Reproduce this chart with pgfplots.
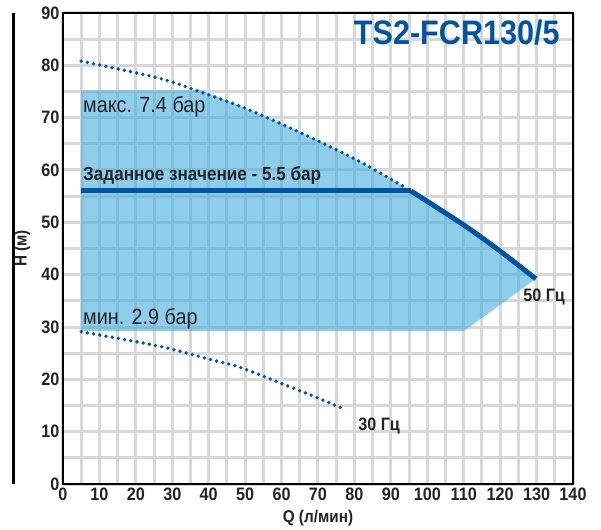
\documentclass[border=0pt]{standalone}
\usepackage{fontspec}
\setmainfont{Liberation Sans}[FakeStretch=0.9]
\usepackage{pgfplots}
\pgfplotsset{compat=1.18}
\definecolor{pumpblue}{RGB}{0,84,166}
\definecolor{fillblue}{RGB}{68,173,222}
\definecolor{gridgray}{RGB}{216,216,216}
\definecolor{txtgray}{RGB}{35,35,35}

\begin{document}
\begin{tikzpicture}
\begin{axis}[
    scale only axis, width=510pt, height=471pt,
    xmin=0, xmax=140, ymin=0, ymax=90,
    xtick={0,10,...,140}, ytick={0,10,...,90},
    minor x tick num=1, minor y tick num=1,
    grid=both,
    grid style={draw=gridgray, line width=3pt},
    major tick length=0pt, minor tick length=0pt,
    axis line style={black, line width=2.4pt},
    tick label style={font=\fontsize{18}{18}\selectfont\bfseries, text=txtgray},
    /pgf/number format/assume math mode=true,
    xlabel={Q (л/мин)}, ylabel={H (м)},
    label style={font=\fontsize{17}{17}\selectfont\bfseries, text=txtgray},
    xlabel style={at={(rel axis cs:0.5,-0.072)}, anchor=center},
    ylabel style={at={(rel axis cs:-0.08,0.5)}, anchor=center},
    clip mode=individual,
]
% operating area
\addplot[draw=none, fill=fillblue, fill opacity=0.6] coordinates {
    (5,29.2) (5,75.2) (38,75.2) (48.6,72.2) (59.6,68.9) (70.5,65.4) (81.5,61.6) (95.5,56)
    (110,49.5) (120,44.5) (129.8,39.2) (110,29.2)
} -- cycle;
% max curve (dotted)
\addplot[pumpblue, line width=3.8pt, line cap=round, dash pattern=on 0pt off 6.3pt, smooth] coordinates {
    (5,80.8) (26.6,77.5) (39.4,74.5) (48.6,72.2) (59.6,68.9) (70.5,65.4) (81.5,61.6) (94.1,56.6)
};
% min curve (dotted)
\addplot[pumpblue, line width=3.8pt, line cap=round, dash pattern=on 0pt off 6.3pt, smooth] coordinates {
    (5,29.1) (26.6,26.3) (40.4,23.8) (48.6,22.3) (60,19.2) (70.1,16.4) (76.5,14.5)
};
% setpoint + 50 Hz curve
\addplot[pumpblue, line width=5pt] coordinates {
    (5,56) (95.5,56)
};
\addplot[pumpblue, line width=5pt, smooth] coordinates {
    (95.5,56) (110,49.5) (120,44.5) (129.8,39.2)
};

\node[anchor=base west, font=\fontsize{22}{22}\selectfont, text=txtgray, inner sep=0pt] at (axis cs:5.5,70.9) {макс. 7.4 бар};
\node[anchor=base west, font=\fontsize{19}{19}\selectfont\bfseries, text=txtgray, inner sep=0pt] at (axis cs:5.5,57.9) {Заданное значение - 5.5 бар};
\node[anchor=base west, font=\fontsize{22}{22}\selectfont, text=txtgray, inner sep=0pt] at (axis cs:5.5,30.4) {мин. 2.9 бар};
\node[anchor=base west, font=\fontsize{18}{18}\selectfont\bfseries, text=txtgray, inner sep=0pt] at (axis cs:126.3,34.8) {50 Гц};
\node[anchor=base west, font=\fontsize{18}{18}\selectfont\bfseries, text=txtgray, inner sep=0pt] at (axis cs:81,10.3) {30 Гц};
\node[anchor=base east, font=\fontsize{34}{34}\selectfont\bfseries, text=pumpblue, inner sep=0pt] at (axis cs:136.4,83.9) {TS2-FCR130/5};

\coordinate (lineB) at (rel axis cs:-0.0975,0);
\coordinate (lineT) at (rel axis cs:-0.0975,1);
\coordinate (bbSW) at (rel axis cs:-0.1235,-0.0934);
\coordinate (bbNE) at (rel axis cs:1.0549,1.0276);
\end{axis}
\draw[black, line width=2.8pt] (lineB) -- (lineT);
\path (bbSW) rectangle (bbNE);
\end{tikzpicture}
\end{document}
